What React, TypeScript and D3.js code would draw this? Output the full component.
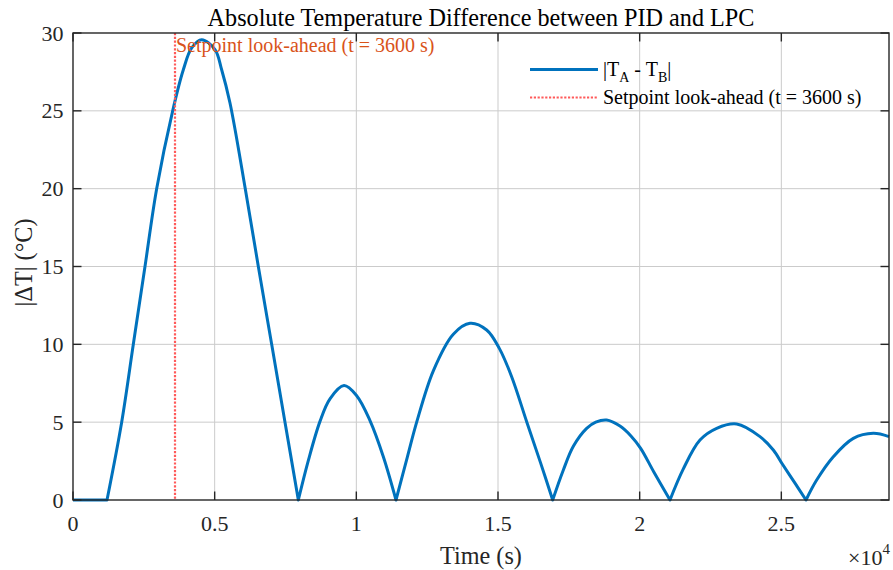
import React from 'react';
import * as d3 from 'd3';

// data
const timeS = [
  0, 1200, 1718, 2129, 2541, 2953, 3518, 3894, 4188, 4541, 5012, 5247, 5541,
  6080, 6541, 7012, 7482, 7953, 8300, 8717, 9070, 9565, 10012, 10482, 10953, 11400,
  11800, 12130, 12717, 13423, 14012, 14600, 15046, 15482, 16012, 16500, 16930, 17300,
  17659, 18129, 18450, 18835, 19306, 19700, 20035, 20500, 21070, 21541, 22129, 22718, 23424,
  24247, 24717, 25047, 25482, 25870, 26247, 26835, 27541, 28247, 28800,
];
const deltaT = [
  0, 0, 5, 10, 15, 20, 25, 27.64, 29.04, 29.57, 28.93, 27.64, 25.5,
  20, 15, 10, 5, 0, 2.5, 5.05, 6.5, 7.35, 6.7, 5.1, 2.78, 0,
  2.75, 5.0, 8.3, 10.65, 11.35, 10.92, 9.74, 7.92, 5.03, 2.4, 0, 1.9,
  3.45, 4.6, 5.0, 5.14, 4.75, 4.1, 3.32, 1.8, 0, 2.0, 3.85, 4.6, 4.88,
  4.07, 3.21, 2.28, 1.08, 0, 1.28, 2.78, 3.96, 4.28, 4.07,
];
const xTicks = [0, 5000, 10000, 15000, 20000, 25000];
const xTickLabels = ['0', '0.5', '1', '1.5', '2', '2.5'];
const yTicks = [0, 5, 10, 15, 20, 25, 30];
const lookAhead = 3600;

const width = 893;
const height = 570;
const left = 73;
const right = 889;
const top = 33;
const bottom = 500;
const font = '"Liberation Serif", "Times New Roman", Times, serif';
const axisColor = '#262626';
const blue = '#0072BD';
const dotRed = '#FF5A5A';
const gridColor = '#cbcbcb';
const tickLen = 8.5;

const x = d3.scaleLinear().domain([0, 28800]).range([left, right]);
const y = d3.scaleLinear().domain([0, 30]).range([bottom, top]);

// one continuous path; each hump (zero to zero) is smoothed on its own so the V's stay sharp
const buildPath = () => {
  const pts = timeS.map((t, i) => [t, deltaT[i]] as [number, number]);
  const segs: [number, number][][] = [];
  let cur: [number, number][] = [pts[0]];
  for (let i = 1; i < pts.length; i++) {
    cur.push(pts[i]);
    if (pts[i][1] === 0) {
      segs.push(cur);
      cur = [pts[i]];
    }
  }
  if (cur.length > 1) segs.push(cur);

  const p = d3.path();
  let started = false;
  const ctx: any = {
    moveTo(a: number, b: number) {
      if (!started) { p.moveTo(a, b); started = true; } else p.lineTo(a, b);
    },
    lineTo: (a: number, b: number) => p.lineTo(a, b),
    bezierCurveTo: (a: number, b: number, c: number, d: number, e: number, f: number) =>
      p.bezierCurveTo(a, b, c, d, e, f),
    closePath: () => p.closePath(),
  };
  const line = d3.line<[number, number]>()
    .x(d => x(d[0]))
    .y(d => y(d[1]))
    .curve(d3.curveCatmullRom.alpha(0.5))
    .context(ctx);
  segs.forEach(s => line(s));
  return p.toString();
};

const T = (props: any) => <text fontFamily={font} {...props} />;

const App = () => {
  const d = buildPath();
  return (
    <svg width={width} height={height} style={{ position: 'absolute', left: 0, top: 0, background: '#fff' }}>
      <rect x={0} y={0} width={width} height={height} fill="#fff" />
      {/* grid */}
      {xTicks.slice(1).map(t => (
        <line key={'gx' + t} x1={x(t)} x2={x(t)} y1={top} y2={bottom} stroke={gridColor} strokeWidth={1} />
      ))}
      {yTicks.slice(1, -1).map(v => (
        <line key={'gy' + v} x1={left} x2={right} y1={y(v)} y2={y(v)} stroke={gridColor} strokeWidth={1} />
      ))}

      {/* data */}
      <path d={d} fill="none" stroke={blue} strokeWidth={3} strokeLinejoin="round" />
      <line x1={x(lookAhead)} x2={x(lookAhead)} y1={top} y2={bottom} stroke={dotRed}
        strokeWidth={2.2} strokeDasharray="2.2,1.6" />
      <T x={x(lookAhead) + 1} y={51.5} fontSize={20} fill="#D95319">
        Setpoint look-ahead (t = 3600 s)
      </T>

      {/* legend */}
      <line x1={530} x2={598} y1={69.5} y2={69.5} stroke={blue} strokeWidth={3} />
      <T x={603} y={75.5} fontSize={20} fill="#000">
        |T<tspan dy={6} fontSize={14}>A</tspan><tspan dy={-6}> - T</tspan>
        <tspan dy={6} fontSize={14}>B</tspan><tspan dy={-6}>|</tspan>
      </T>
      <line x1={530} x2={598} y1={97.5} y2={97.5} stroke={dotRed} strokeWidth={2.2} strokeDasharray="2.2,1.6" />
      <T x={603} y={103.5} fontSize={20} fill="#000">Setpoint look-ahead (t = 3600 s)</T>

      {/* axes box and ticks */}
      <rect x={left} y={top} width={right - left} height={bottom - top} fill="none"
        stroke={axisColor} strokeWidth={1.4} />
      {xTicks.map(t => (
        <g key={'tx' + t}>
          <line x1={x(t)} x2={x(t)} y1={bottom} y2={bottom - tickLen} stroke={axisColor} strokeWidth={1.4} />
          <line x1={x(t)} x2={x(t)} y1={top} y2={top + tickLen} stroke={axisColor} strokeWidth={1.4} />
        </g>
      ))}
      {yTicks.map(v => (
        <g key={'ty' + v}>
          <line x1={left} x2={left + tickLen} y1={y(v)} y2={y(v)} stroke={axisColor} strokeWidth={1.4} />
          <line x1={right} x2={right - tickLen} y1={y(v)} y2={y(v)} stroke={axisColor} strokeWidth={1.4} />
        </g>
      ))}
      {xTicks.map((t, i) => (
        <T key={'lx' + t} x={x(t)} y={530.5} fontSize={22} textAnchor="middle" fill={axisColor}>
          {xTickLabels[i]}
        </T>
      ))}
      {yTicks.map(v => (
        <T key={'ly' + v} x={63.5} y={y(v) + 7.5} fontSize={22} textAnchor="end" fill={axisColor}>
          {v}
        </T>
      ))}

      {/* exponent */}
      <T x={890} y={565} fontSize={22} textAnchor="end" fill={axisColor}>
        ×10<tspan dy={-11} fontSize={15}>4</tspan>
      </T>

      {/* labels */}
      <T x={(left + right) / 2} y={26} fontSize={24.2} textAnchor="middle" fill="#000">
        Absolute Temperature Difference between PID and LPC
      </T>
      <T x={(left + right) / 2} y={564} fontSize={24.2} textAnchor="middle" fill={axisColor}>
        Time (s)
      </T>
      <T transform={`translate(31.5, ${(top + bottom) / 2 - 4}) rotate(-90)`} fontSize={24.2}
        textAnchor="middle" fill={axisColor}>
        |ΔT| (°C)
      </T>
    </svg>
  );
};

export default App;
